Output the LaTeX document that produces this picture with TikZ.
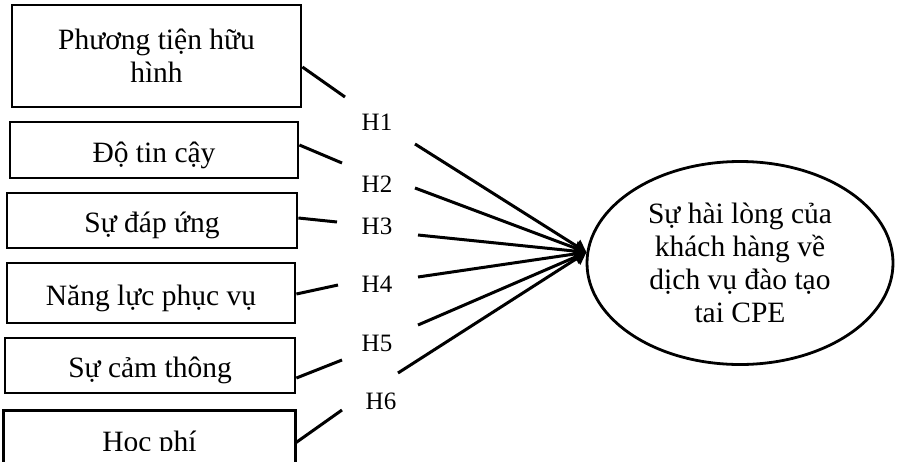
\documentclass[tikz,border=0pt]{standalone}
\usepackage{fontspec}
\setmainfont{Liberation Serif}
\usetikzlibrary{arrows.meta,shapes.geometric}

\begin{document}
\begin{tikzpicture}[x=0.5pt,y=-0.5pt,
  factor/.style={draw,line width=1.4pt,inner sep=0pt,minimum width=144pt,
    align=center,font=\fontsize{14.75}{16.5}\selectfont},
  oneline/.style={text height=15pt,text depth=3pt},
  hyp/.style={inner sep=0pt,font=\fontsize{12.5}{14}\selectfont},
  link/.style={line width=1.5pt},
  effect/.style={link,-{Triangle[length=6pt,width=7pt]}},
  outcome/.style={draw,ellipse,line width=1.4pt,inner sep=0pt,
    minimum width=153pt,minimum height=101.5pt,align=center,
    font=\fontsize{14.75}{16.4}\selectfont}]

\useasboundingbox (0,0) rectangle (899,461);
\clip (0,0) rectangle (899,461);

% independent factors
\node[factor,minimum width=144.5pt,minimum height=51pt] (b1) at (156.5,56) {Phương tiện hữu\\hình};
\node[factor,oneline,minimum height=28pt] (b2) at (154,150) {Độ tin cậy};
\node[factor,oneline,minimum width=145pt,minimum height=27.5pt] (b3) at (152,220.5) {Sự đáp ứng};
\node[factor,oneline,minimum height=30pt] (b4) at (151,293) {Năng lực phục vụ};
\node[factor,oneline,minimum width=145pt,minimum height=27.5pt] (b5) at (150,365.5) {Sự cảm thông};
\begin{scope}
  \clip (0,0) rectangle (899,450);
  \node[factor,draw=none,minimum width=144.5pt,minimum height=32pt] (b6) at (149.5,444) {Học phí};
\end{scope}
\draw[line width=1.4pt] (b6.south west) rectangle (b6.north east);

% dependent construct
\node[outcome] (sat) at (740,263) {Sự hài lòng của\\khách hàng về\\dịch vụ đào tạo\\tai CPE};

% hypothesis labels
\node[hyp] (h1) at (377,122.5) {H1};
\node[hyp] (h2) at (377,184) {H2};
\node[hyp] (h3) at (377,226) {H3};
\node[hyp] (h4) at (377,284) {H4};
\node[hyp] (h5) at (377,343) {H5};
\node[hyp] (h6) at (381,401.5) {H6};

% ends of the paths on either side of each label
\coordinate (g1) at (345,97);  \coordinate (r1) at (415,144);
\coordinate (g2) at (342,163); \coordinate (r2) at (415,188);
\coordinate (g3) at (337,222); \coordinate (r3) at (418,235);
\coordinate (g4) at (338,285); \coordinate (r4) at (418,277);
\coordinate (g5) at (342,360); \coordinate (r5) at (418,325);
\coordinate (g6) at (342,410); \coordinate (r6) at (398,373);

% paths into the satisfaction construct
\draw[link] ([yshift=-5.5pt]b1.east) -- (g1);
\draw[link] ([yshift=2.5pt]b2.east) -- (g2);
\draw[link] ([yshift=1.25pt]b3.east) -- (g3);
\draw[link] ([yshift=-0.5pt]b4.east) -- (g4);
\draw[link] ([yshift=-6.25pt]b5.east) -- (g5);
\draw[link] (b6.east |- g6) ++(0,33) -- (g6);

\foreach \i in {1,...,6}
  \draw[effect] (r\i) -- (sat.176);

\end{tikzpicture}
\end{document}
